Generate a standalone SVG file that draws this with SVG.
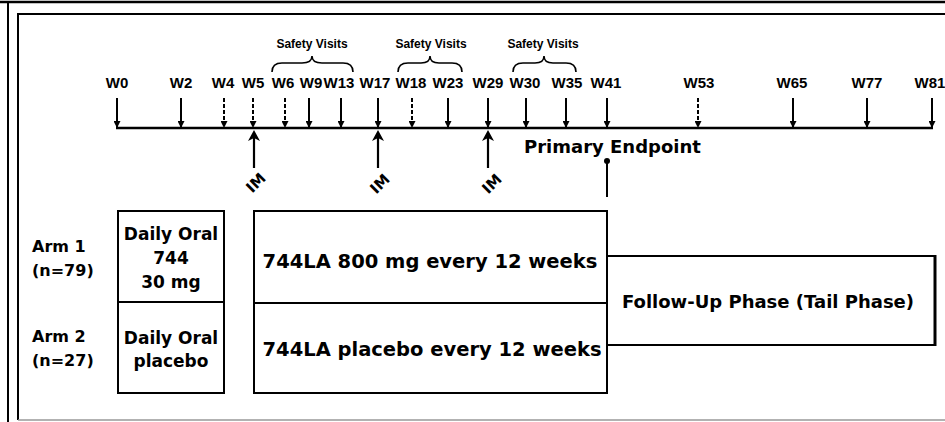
<svg xmlns="http://www.w3.org/2000/svg" width="945" height="422" viewBox="0 0 945 422">
<style>
.frame{stroke:#000;stroke-width:2;fill:none}
.box{fill:#fff;stroke:#000;stroke-width:2}
.wl{font-family:"Liberation Sans",Arial,sans-serif;font-weight:bold;font-size:15px;text-anchor:middle;fill:#000}
.sv{font-family:"Liberation Sans",Arial,sans-serif;font-weight:bold;font-size:12px;text-anchor:middle;fill:#000}
.t{font-family:"DejaVu Sans",Arial,sans-serif;font-weight:bold;fill:#000}
.c{text-anchor:middle}
.tick{stroke:#000;stroke-width:2;fill:none;marker-end:url(#dn)}
.dash{stroke-dasharray:4 2}
.im{stroke:#000;stroke-width:2.2;fill:none}
.head{fill:#000;stroke:none}
.brace{stroke:#000;stroke-width:1.6;fill:none}
</style>
<defs>
<marker id="dn" viewBox="0 0 8 8" refX="8" refY="4" markerWidth="7" markerHeight="7" markerUnits="userSpaceOnUse" orient="auto">
<path d="M0,0 L8,4 L0,8 z" fill="#000"/>
</marker>
<path id="uphead" d="M0,0 L6,11 L0,8 L-6,11 z"/>
</defs>
<rect width="945" height="422" fill="#fff"/>
<g id="frame">
<line x1="0" y1="2" x2="945" y2="2" stroke="#000" stroke-width="2.5"/>
<line x1="8" y1="2" x2="8" y2="422" class="frame"/>
<polyline points="945,14 18,14 18,420" class="frame"/>
<line x1="18" y1="420" x2="945" y2="420" stroke="#999" stroke-width="1.5"/>
</g>
<g id="timeline">
<line x1="116" y1="128" x2="933" y2="128" stroke="#000" stroke-width="2.5"/>
</g>
<g id="week-labels">
<text class="wl" x="117" y="88">W0</text>
<text class="wl" x="181" y="88">W2</text>
<text class="wl" x="223" y="88">W4</text>
<text class="wl" x="253" y="88">W5</text>
<text class="wl" x="283" y="88">W6</text>
<text class="wl" x="311" y="88">W9</text>
<text class="wl" x="339" y="88">W13</text>
<text class="wl" x="375" y="88">W17</text>
<text class="wl" x="411" y="88">W18</text>
<text class="wl" x="448" y="88">W23</text>
<text class="wl" x="488" y="88">W29</text>
<text class="wl" x="525" y="88">W30</text>
<text class="wl" x="567" y="88">W35</text>
<text class="wl" x="606" y="88">W41</text>
<text class="wl" x="699" y="88">W53</text>
<text class="wl" x="792" y="88">W65</text>
<text class="wl" x="867" y="88">W77</text>
<text class="wl" x="930" y="88">W81</text>
</g>
<g id="safety-visits">
<text class="sv" x="312" y="48">Safety Visits</text>
<path class="brace" d="M272 72 Q272 63 282 63 L302 63 Q312 63 312 56 Q312 63 322 63 L343 63 Q353 63 353 72"/>
<text class="sv" x="431" y="48">Safety Visits</text>
<path class="brace" d="M398 72 Q398 63 408 63 L421 63 Q430 63 430 56 Q430 63 439 63 L452 63 Q462 63 462 72"/>
<text class="sv" x="543" y="48">Safety Visits</text>
<path class="brace" d="M513 72 Q513 63 523 63 L535 63 Q544 63 544 56 Q544 63 553 63 L566 63 Q576 63 576 72"/>
</g>
<g id="connectors">
<line class="tick" x1="117" y1="98" x2="117" y2="128"/>
<line class="tick" x1="181" y1="98" x2="181" y2="128"/>
<line class="tick dash" x1="224" y1="98" x2="224" y2="128"/>
<line class="tick dash" x1="253" y1="98" x2="253" y2="128"/>
<line class="tick dash" x1="285" y1="98" x2="285" y2="128"/>
<line class="tick" x1="309" y1="98" x2="309" y2="128"/>
<line class="tick" x1="341" y1="98" x2="341" y2="128"/>
<line class="tick" x1="378" y1="98" x2="378" y2="128"/>
<line class="tick dash" x1="412" y1="98" x2="412" y2="128"/>
<line class="tick" x1="448" y1="98" x2="448" y2="128"/>
<line class="tick" x1="488" y1="98" x2="488" y2="128"/>
<line class="tick" x1="526" y1="98" x2="526" y2="128"/>
<line class="tick" x1="566" y1="98" x2="566" y2="128"/>
<line class="tick" x1="607" y1="98" x2="607" y2="128"/>
<line class="tick dash" x1="698" y1="98" x2="698" y2="128"/>
<line class="tick" x1="793" y1="98" x2="793" y2="128"/>
<line class="tick" x1="867" y1="98" x2="867" y2="128"/>
<line class="tick" x1="932" y1="98" x2="932" y2="128"/>
<line class="im" x1="254" y1="168" x2="254" y2="136"/>
<use href="#uphead" class="head" x="254" y="130"/>
<line class="im" x1="378" y1="168" x2="378" y2="136"/>
<use href="#uphead" class="head" x="378" y="130"/>
<line class="im" x1="488" y1="168" x2="488" y2="136"/>
<use href="#uphead" class="head" x="488" y="130"/>
<line x1="607" y1="162" x2="607" y2="197" stroke="#000" stroke-width="2"/>
<circle cx="607" cy="161" r="3" fill="#000"/>
<line x1="607" y1="256" x2="935" y2="256" stroke="#000" stroke-width="2"/>
<line x1="607" y1="345" x2="935" y2="345" stroke="#000" stroke-width="2"/>
</g>
<g id="im-labels">
<text class="t c" font-size="15" x="256" y="188" transform="rotate(-45 256 183)">IM</text>
<text class="t c" font-size="15" x="380" y="189" transform="rotate(-45 380 184)">IM</text>
<text class="t c" font-size="15" x="492" y="189" transform="rotate(-45 492 184)">IM</text>
</g>
<g id="primary-endpoint">
<text class="t" font-size="18" x="524" y="153">Primary Endpoint</text>
</g>
<g id="arm1-label">
<text class="t" font-size="16" x="32" y="252">Arm 1</text>
<text class="t" font-size="16" x="32" y="276">(n=79)</text>
</g>
<g id="arm2-label">
<text class="t" font-size="16" x="32" y="342">Arm 2</text>
<text class="t" font-size="16" x="32" y="366">(n=27)</text>
</g>
<g id="oral-744">
<rect class="box" x="118" y="211" width="106" height="91"/>
<text class="t c" font-size="17" x="171" y="240">Daily Oral</text>
<text class="t c" font-size="17" x="171" y="264">744</text>
<text class="t c" font-size="17" x="171" y="288">30 mg</text>
</g>
<g id="oral-placebo">
<rect class="box" x="118" y="302" width="106" height="91"/>
<text class="t c" font-size="17" x="171" y="344">Daily Oral</text>
<text class="t c" font-size="17" x="171" y="367">placebo</text>
</g>
<g id="la-800">
<rect class="box" x="254" y="211" width="353" height="92"/>
<text class="t c" font-size="19.5" x="430" y="268">744LA 800 mg every 12 weeks</text>
</g>
<g id="la-placebo">
<rect class="box" x="254" y="303" width="353" height="90"/>
<text class="t c" font-size="19.5" x="432" y="356">744LA placebo every 12 weeks</text>
</g>
<g id="follow-up">
<line x1="935" y1="255" x2="935" y2="346" stroke="#000" stroke-width="3"/>
<text class="t c" font-size="18" x="768" y="308">Follow-Up Phase (Tail Phase)</text>
</g>
</svg>
